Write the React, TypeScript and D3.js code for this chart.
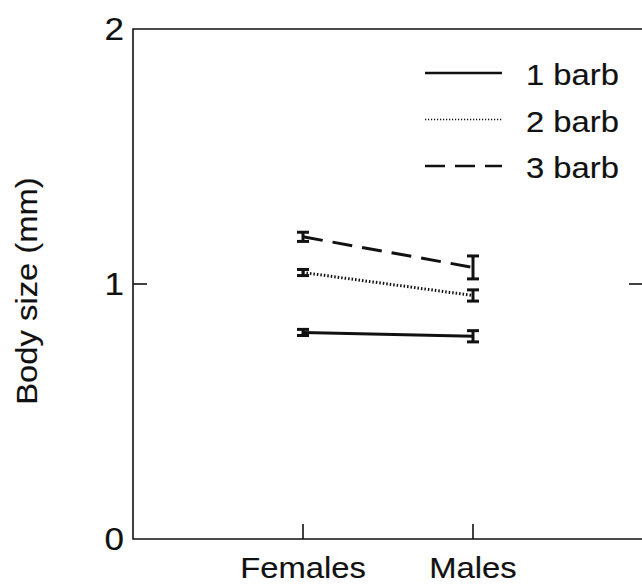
import { useEffect, useRef } from "react";
import * as d3 from "d3";

// categories on the x axis
const groups = ["Females", "Males"];
// series: number of barbs
const series = ["1 barb", "2 barb", "3 barb"];
// mean body size (mm) for each series, per group
const means = [
  [0.81, 0.795],
  [1.045, 0.955],
  [1.185, 1.065],
];
// error bar half-widths
const errors = [
  [0.012, 0.022],
  [0.012, 0.022],
  [0.018, 0.045],
];
const yTicks = [0, 1, 2];
const dashes = ["none", "1.5 2", "20 10"];
const legendDashes = ["none", "1.2 1.8", "20 10"];

export default function App() {
  const ref = useRef<SVGSVGElement | null>(null);

  useEffect(() => {
    const width = 642;
    const height = 586;
    const left = 133;
    const right = 643;
    const top = 29;
    const bottom = 539;
    const font = "'Liberation Sans', Arial, sans-serif";
    const ink = "#111";

    const svg = d3.select(ref.current);
    svg.selectAll("*").remove();
    svg.attr("width", width).attr("height", height);

    const x = d3
      .scalePoint<string>()
      .domain(groups)
      .range([left, right])
      .padding(1);
    const y = d3.scaleLinear().domain([0, 2]).range([bottom, top]);

    // wide text, like the stretched Helvetica of the original
    const label = (
      parent: d3.Selection<any, unknown, null, undefined>,
      tx: number,
      ty: number,
      txt: string,
      anchor: string,
      size: number,
      rot = 0
    ) =>
      parent
        .append("text")
        .attr("transform", `translate(${tx},${ty}) rotate(${rot}) scale(1.13,1)`)
        .attr("text-anchor", anchor)
        .attr("font-family", font)
        .attr("font-size", size)
        .attr("fill", ink)
        .attr("stroke", ink)
        .attr("stroke-width", 0.15)
        .text(txt);

    // frame: top, left, bottom (right edge falls off the picture)
    const frame = svg
      .append("g")
      .attr("stroke", ink)
      .attr("stroke-width", 1.6)
      .attr("fill", "none");
    frame
      .append("path")
      .attr("d", `M${right + 2},${top}H${left}V${bottom}H${right + 2}`);

    // y ticks (inward, both sides)
    const g = svg.append("g");
    yTicks.forEach((t) => {
      if (t !== 0 && t !== 2) {
        frame
          .append("line")
          .attr("x1", left)
          .attr("x2", left + 14)
          .attr("y1", y(t))
          .attr("y2", y(t));
        frame
          .append("line")
          .attr("x1", right - 14)
          .attr("x2", right + 2)
          .attr("y1", y(t))
          .attr("y2", y(t));
      }
      label(g, 124, y(t) + 11, String(t), "end", 31);
    });

    // x ticks (inward) and labels
    groups.forEach((c) => {
      frame
        .append("line")
        .attr("x1", x(c)!)
        .attr("x2", x(c)!)
        .attr("y1", bottom)
        .attr("y2", bottom - 15);
      label(g, x(c)!, 578, c, "middle", 29);
    });

    // y axis title
    label(svg, 37, (top + bottom) / 2 + 7, "Body size (mm)", "middle", 29, -90);

    // series lines
    const line = d3
      .line<number>()
      .x((_, i) => x(groups[i])!)
      .y((d) => y(d));

    means.forEach((m, s) => {
      svg
        .append("path")
        .attr("d", line(m))
        .attr("fill", "none")
        .attr("stroke", ink)
        .attr("stroke-width", 3)
        .attr("stroke-dasharray", dashes[s]);

      m.forEach((v, i) => {
        const cx = x(groups[i])!;
        const e = errors[s][i];
        const eb = svg.append("g").attr("stroke", ink).attr("stroke-width", 3);
        eb.append("line")
          .attr("x1", cx)
          .attr("x2", cx)
          .attr("y1", y(v - e))
          .attr("y2", y(v + e));
        [v - e, v + e].forEach((w) => {
          eb.append("line")
            .attr("x1", cx - 6)
            .attr("x2", cx + 6)
            .attr("y1", y(w))
            .attr("y2", y(w));
        });
      });
    });

    // legend
    const legend = svg.append("g");
    series.forEach((name, s) => {
      const ly = 73 + s * 46.5;
      legend
        .append("line")
        .attr("x1", 425)
        .attr("x2", 502)
        .attr("y1", ly)
        .attr("y2", ly)
        .attr("stroke", ink)
        .attr("stroke-width", s === 1 ? 1.6 : 2.6)
        .attr("stroke-dasharray", legendDashes[s]);
      label(legend, 526, ly + 12, name, "start", 29);
    });
  }, []);

  return (
    <svg
      ref={ref}
      style={{ position: "absolute", left: 0, top: 0, background: "#fff" }}
    />
  );
}
